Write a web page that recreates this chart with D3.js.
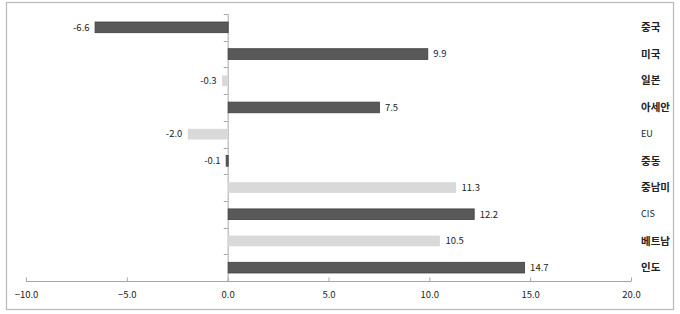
<!DOCTYPE html>
<html><head><meta charset="utf-8">
<script src="https://cdn.jsdelivr.net/npm/d3@7"></script>
<style>body{margin:0;background:#fff}</style>
</head><body>
<svg id="c" width="680" height="314"></svg>
<script>
const categories = ["중국","미국","일본","아세안","EU","중동","중남미","CIS","베트남","인도"];
const values = [-6.6, 9.9, -0.3, 7.5, -2.0, -0.1, 11.3, 12.2, 10.5, 14.7];
const shades = ["dark","dark","light","dark","light","dark","light","dark","light","dark"];
const xTicks = [-10, -5, 0, 5, 10, 15, 20];
const latin = {"EU":1, "CIS":1};

const svg = d3.select("#c");
const font = "'Noto Sans CJK KR','Noto Sans',sans-serif";
svg.append("rect").attr("x",6.5).attr("y",2.5).attr("width",667).attr("height",307)
  .attr("fill","#fff").attr("stroke","#b8b8b8").attr("stroke-width",1.2);

const x = d3.scaleLinear().domain([-10,20]).range([26,631]);
const y = d3.scaleBand().domain(categories).range([14,281]).paddingInner(0.6).paddingOuter(0.3);

// x axis
const xa = svg.append("g").attr("transform","translate(0,281.5)")
  .call(d3.axisBottom(x).tickValues(xTicks).tickFormat(d3.format(".1f")).tickSize(4).tickSizeOuter(0));
xa.select(".domain").attr("stroke","#a6a6a6").attr("d","M26,0H631");
xa.selectAll(".tick line").attr("stroke","#a6a6a6").attr("y2",-4);
xa.selectAll(".tick text").attr("y",10).attr("font-family",font).attr("font-size",9.5).attr("fill","#222");

// y axis at zero
const band = (281-14)/categories.length;
const ya = svg.append("g");
ya.append("line").attr("x1",x(0)+0.5).attr("x2",x(0)+0.5).attr("y1",14).attr("y2",281).attr("stroke","#a6a6a6");
d3.range(categories.length).forEach(i=>{
  ya.append("line").attr("x1",x(0)-4).attr("x2",x(0)).attr("y1",Math.round(14+i*band)+0.5).attr("y2",Math.round(14+i*band)+0.5).attr("stroke","#a6a6a6");
});

// bars
svg.append("g").selectAll("rect").data(categories).join("rect")
  .attr("x",(d,i)=>x(Math.min(0,values[i]))+0.5)
  .attr("width",(d,i)=>Math.max(1,Math.abs(x(values[i])-x(0))))
  .attr("y",d=>y(d))
  .attr("height",y.bandwidth())
  .attr("fill",(d,i)=>shades[i]==="dark"?"#595959":"#d9d9d9")
  .attr("stroke",(d,i)=>shades[i]==="dark"?"#3f3f3f":"none")
  .attr("stroke-width",0.8);

// value labels
svg.append("g").selectAll("text").data(categories).join("text")
  .attr("x",(d,i)=>values[i]<0 ? x(values[i])-5 : x(values[i])+6)
  .attr("y",d=>y(d)+y.bandwidth()/2)
  .attr("dy","0.35em")
  .attr("text-anchor",(d,i)=>values[i]<0?"end":"start")
  .attr("font-family",font).attr("font-size",9.5).attr("fill","#222")
  .text((d,i)=>values[i].toFixed(1));

// category labels
svg.append("g").selectAll("text").data(categories).join("text")
  .attr("x",641)
  .attr("y",d=>y(d)+y.bandwidth()/2)
  .attr("dy","0.35em")
  .attr("font-family",font)
  .attr("font-size",d=>latin[d]?9:10.5)
  .attr("font-weight",d=>latin[d]?"normal":"bold")
  .attr("fill","#222")
  .text(d=>d);
</script>
</body></html>
